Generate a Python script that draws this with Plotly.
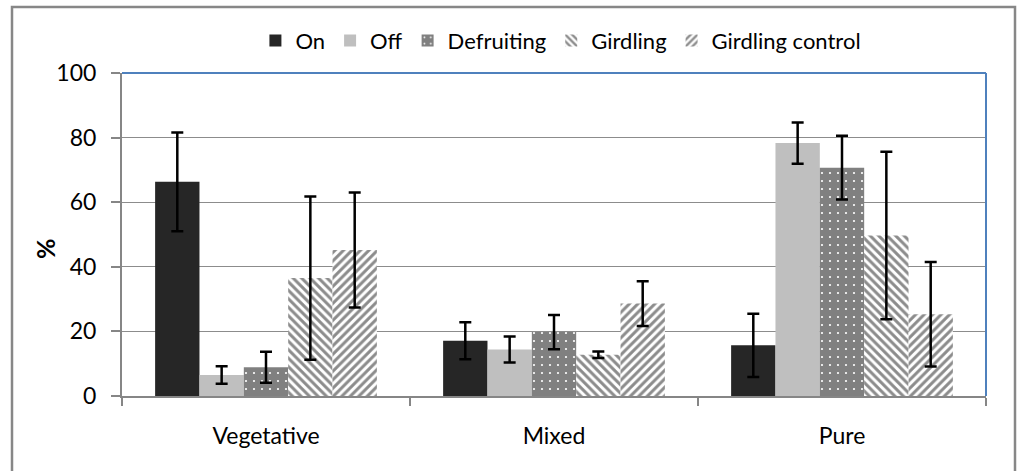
import plotly.graph_objects as go

# Shoot types on the x axis
categories = ["Vegetative", "Mixed", "Pure"]

# Mean percentages and standard errors for each treatment
on_vals = [66.3, 17.1, 15.7]
on_err = [15.3, 5.7, 9.8]
off_vals = [6.5, 14.4, 78.3]
off_err = [2.7, 4.0, 6.4]
defruit_vals = [8.9, 19.8, 70.7]
defruit_err = [4.8, 5.3, 9.9]
girdling_vals = [36.5, 12.8, 49.7]
girdling_err = [25.3, 1.0, 25.9]
girdctl_vals = [45.2, 28.6, 25.3]
girdctl_err = [17.8, 6.9, 16.2]

y_ticks = [0, 20, 40, 60, 80, 100]

FONT = "Lato"
W, H = 1020, 471
ML, MR, MT, MB = 122, 34, 73, 75
PW, PH = W - ML - MR, H - MT - MB


def err(vals):
    return dict(type="data", array=vals, visible=True, color="black",
                thickness=2.5, width=6)


series = [
    ("On", on_vals, on_err, dict(color="#262626")),
    ("Off", off_vals, off_err, dict(color="#BFBFBF")),
    ("Defruiting", defruit_vals, defruit_err,
     dict(color="#808080", pattern=dict(shape=".", fgcolor="white", bgcolor="#808080",
                                        size=8, solidity=0.06, fillmode="replace"))),
    ("Girdling", girdling_vals, girdling_err,
     dict(color="#8C8C8C", pattern=dict(shape="\\", fgcolor="#8C8C8C", bgcolor="white",
                                        size=6, solidity=0.5, fillmode="replace"))),
    ("Girdling control", girdctl_vals, girdctl_err,
     dict(color="#8C8C8C", pattern=dict(shape="/", fgcolor="#8C8C8C", bgcolor="white",
                                        size=6, solidity=0.5, fillmode="replace"))),
]

fig = go.Figure()
for name, vals, e, marker in series:
    marker = dict(marker, line=dict(width=0))
    fig.add_trace(go.Bar(name=name, x=categories, y=vals, error_y=err(e), marker=marker))


def px_x(p):
    return (p - ML) / PW


def px_y(p):
    return (H - MB - p) / PH


shapes = [
    # outer chart frame
    dict(type="rect", xref="paper", yref="paper",
         x0=px_x(12), x1=px_x(1015), y0=px_y(480), y1=px_y(7),
         line=dict(color="#878787", width=2.5), layer="below"),
    # plot area border (top and right)
    dict(type="line", xref="paper", yref="paper", x0=0, x1=1, y0=1, y1=1,
         line=dict(color="#4F81BD", width=2)),
    dict(type="line", xref="paper", yref="paper", x0=1, x1=1, y0=0, y1=1,
         line=dict(color="#4F81BD", width=2)),
]

fig.update_layout(
    width=W, height=H,
    margin=dict(l=ML, r=MR, t=MT, b=MB, pad=0),
    paper_bgcolor="white", plot_bgcolor="white",
    font=dict(family=FONT, size=23, color="black"),
    barmode="group", bargap=0.23, bargroupgap=0,
    showlegend=True,
    legend=dict(orientation="h", x=0.508, xanchor="center", y=1.1, yanchor="middle",
                font=dict(size=22), itemwidth=30, traceorder="normal",
                bgcolor="rgba(0,0,0,0)"),
    shapes=shapes,
    annotations=[
        dict(text="<b>%</b>", xref="paper", yref="paper", x=px_x(45), y=px_y(249),
             xanchor="center", yanchor="middle", textangle=-90, showarrow=False,
             font=dict(size=25, color="black")),
    ],
)

fig.update_xaxes(
    type="category", showgrid=False, showline=True, linecolor="#868686", linewidth=2,
    ticks="outside", tickson="boundaries", ticklen=8, tickcolor="#868686", tickwidth=2,
    tickfont=dict(size=23), ticklabelstandoff=18,
)
fig.update_yaxes(
    range=[0, 100], tickvals=y_ticks, showgrid=True, gridcolor="#8C8C8C", gridwidth=1.2,
    showline=True, linecolor="#868686", linewidth=2, zeroline=False,
    ticks="outside", ticklen=9, tickcolor="#868686", tickwidth=2,
    tickfont=dict(size=23), ticklabelstandoff=10,
)

fig.write_html("out.html")
